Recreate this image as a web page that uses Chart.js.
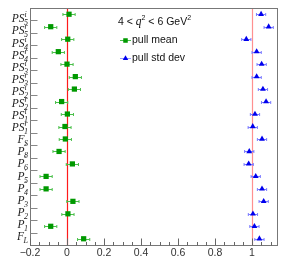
<!DOCTYPE html>
<html>
<head>
<meta charset="utf-8">
<script src="https://cdn.jsdelivr.net/npm/chart.js@4.4.0/dist/chart.umd.min.js"></script>
<style>
  html, body { margin: 0; padding: 0; background: #fff; }
  #wrap { width: 287px; height: 275px; }
</style>
</head>
<body>
<div id="wrap"><canvas id="pulls"></canvas></div>
<script>
"use strict";

// rows, top to bottom: base symbol, superscript, subscript
const rowBase = ["PS", "PS", "PS", "PS", "PS", "PS", "PS", "PS", "PS", "PS", "F", "P", "P", "P", "P", "P", "P", "P", "F"];
const rowSup = ["i", "r", "i", "r", "i", "r", "i", "r", "i", "r", "", "\u2032", "\u2032", "\u2032", "\u2032", "", "", "", ""];
const rowSub = ["5", "5", "4", "4", "3", "3", "2", "2", "1", "1", "S", "8", "6", "5", "4", "3", "2", "1", "L"];

const pullMean = [0.011, -0.088, 0.004, -0.047, 0.0, 0.045, 0.040, -0.029, 0.002, -0.011,
                  -0.009, -0.043, 0.029, -0.113, -0.113, 0.032, 0.005, -0.088, 0.090];
const pullMeanErr = [0.033, 0.033, 0.033, 0.033, 0.033, 0.033, 0.033, 0.033, 0.033, 0.033,
                     0.033, 0.033, 0.033, 0.033, 0.033, 0.033, 0.033, 0.033, 0.033];
const pullStd = [1.049, 1.090, 0.969, 1.025, 1.052, 1.025, 1.059, 1.076, 1.016, 1.004,
                 1.054, 0.985, 0.982, 1.020, 1.054, 1.063, 1.005, 1.013, 1.040];
const pullStdErr = [0.025, 0.025, 0.025, 0.025, 0.025, 0.025, 0.025, 0.025, 0.025, 0.025,
                    0.025, 0.025, 0.025, 0.025, 0.025, 0.025, 0.025, 0.025, 0.025];

const xTicks = [-0.2, 0, 0.2, 0.4, 0.6, 0.8, 1];
const xTickLabels = ["\u22120.2", "0", "0.2", "0.4", "0.6", "0.8", "1"];
const refLines = [0, 1];

const SANS = "'Liberation Sans', Arial, sans-serif";
const SERIF = "'Liberation Serif', 'Times New Roman', serif";

function errorBars(ctx, xs, ys, vals, errs, color) {
  ctx.strokeStyle = color;
  ctx.lineWidth = 1;
  vals.forEach((v, i) => {
    const y = Math.round(ys.getPixelForValue(i)) + 0.5;
    const x1 = xs.getPixelForValue(v - errs[i]);
    const x2 = xs.getPixelForValue(v + errs[i]);
    ctx.beginPath();
    ctx.moveTo(x1, y); ctx.lineTo(x2, y);
    ctx.moveTo(x1, y - 1.5); ctx.lineTo(x1, y + 1.5);
    ctx.moveTo(x2, y - 1.5); ctx.lineTo(x2, y + 1.5);
    ctx.stroke();
  });
}

const decorations = {
  id: "decorations",
  beforeDatasetsDraw(chart) {
    const { ctx, chartArea: a, scales: { x, y } } = chart;
    ctx.save();
    // reference lines at 0 and 1
    refLines.forEach((v, k) => {
      const px = Math.round(x.getPixelForValue(v)) + 0.5;
      ctx.strokeStyle = k === 0 ? "#ff1a1a" : "#ff9090";
      ctx.lineWidth = 1.2;
      ctx.beginPath();
      ctx.moveTo(px, a.top); ctx.lineTo(px, a.bottom);
      ctx.stroke();
    });
    errorBars(ctx, x, y, pullMean, pullMeanErr, "#4cc04c");
    errorBars(ctx, x, y, pullStd, pullStdErr, "#7a7aff");
    ctx.restore();
  },
  afterDraw(chart) {
    const { ctx, chartArea: a, scales: { x, y } } = chart;
    ctx.save();
    const L = Math.round(a.left) + 0.5, R = Math.round(a.right) + 0.5;
    const T = Math.round(a.top) + 0.5, B = Math.round(a.bottom) + 0.5;

    // frame
    ctx.strokeStyle = "#777";
    ctx.lineWidth = 1;
    ctx.strokeRect(L, T, R - L, B - T);

    // x ticks: major every 0.2, minor every 0.05
    ctx.strokeStyle = "#666";
    ctx.beginPath();
    for (let k = 0; k * 0.05 + -0.2 <= x.max + 1e-9; k++) {
      const v = -0.2 + k * 0.05;
      const px = Math.round(x.getPixelForValue(v)) + 0.5;
      const len = k % 4 === 0 ? 7 : 3.5;
      ctx.moveTo(px, B); ctx.lineTo(px, B - len);
    }
    ctx.stroke();

    // x labels
    ctx.fillStyle = "#333";
    ctx.font = "10.5px " + SANS;
    ctx.textAlign = "center";
    ctx.textBaseline = "alphabetic";
    xTicks.forEach((v, i) => {
      ctx.fillText(xTickLabels[i], x.getPixelForValue(v), 255.5);
    });

    // y ticks at row boundaries
    ctx.strokeStyle = "#888";
    ctx.beginPath();
    for (let i = 0; i < rowBase.length - 1; i++) {
      const py = Math.round(y.getPixelForValue(i + 0.5)) + 0.5;
      ctx.moveTo(L, py); ctx.lineTo(L + 7, py);
    }
    ctx.stroke();

    // y labels (italic, with super/subscripts)
    ctx.fillStyle = "#222";
    ctx.textAlign = "left";
    rowBase.forEach((base, i) => {
      const cy = y.getPixelForValue(0.342 + 0.970 * i);
      const baseline = cy + 3.8;
      ctx.font = "italic 11.5px " + SERIF;
      const wb = ctx.measureText(base).width;
      ctx.font = "italic 8px " + SERIF;
      const ws = Math.max(ctx.measureText(rowSup[i]).width, ctx.measureText(rowSub[i]).width);
      const x0 = 28.5 - wb - ws;
      ctx.font = "italic 11.5px " + SERIF;
      ctx.fillText(base, x0, baseline);
      ctx.font = "italic 8px " + SERIF;
      if (rowSup[i]) ctx.fillText(rowSup[i], x0 + wb, baseline - 5);
      ctx.fillText(rowSub[i], x0 + wb - 0.5, baseline + 3);
    });

    // legend header: 4 < q^2 < 6 GeV^2
    let tx = 118;
    const tb = 25;
    const piece = (txt, font, dy) => {
      ctx.font = font;
      ctx.fillText(txt, tx, tb + dy);
      tx += ctx.measureText(txt).width;
    };
    ctx.fillStyle = "#111";
    piece("4 < ", "10.5px " + SANS, 0);
    piece("q", "italic 11.5px " + SERIF, 0);
    piece("2", "7px " + SANS, -5);
    piece(" < 6 GeV", "10.5px " + SANS, 0);
    piece("2", "7px " + SANS, -5);

    // legend entries
    const entries = [
      { text: "pull mean", line: "#4cc04c", fill: "#009900", style: "rect", y: 40.5 },
      { text: "pull std dev", line: "#9a9aff", fill: "#0000ee", style: "triangle", y: 58.5 }
    ];
    entries.forEach((e) => {
      ctx.strokeStyle = e.line;
      ctx.lineWidth = 1;
      ctx.beginPath();
      ctx.moveTo(120, e.y); ctx.lineTo(131, e.y);
      ctx.stroke();
      ctx.fillStyle = e.fill;
      Chart.helpers.drawPoint(ctx, { pointStyle: e.style, radius: 3.2, borderWidth: 0 }, 125.5, e.y);
      ctx.fillStyle = "#111";
      ctx.font = "10.5px " + SANS;
      ctx.textBaseline = "middle";
      ctx.fillText(e.text, 132, e.y);
      ctx.textBaseline = "alphabetic";
    });
    ctx.restore();
  }
};

new Chart(document.getElementById("pulls"), {
  type: "scatter",
  data: {
    datasets: [
      {
        label: "pull mean",
        data: pullMean.map((v, i) => ({ x: v, y: i })),
        pointStyle: "rect",
        pointRadius: 3.7,
        backgroundColor: "#009900",
        borderColor: "#009900",
        borderWidth: 0
      },
      {
        label: "pull std dev",
        data: pullStd.map((v, i) => ({ x: v, y: i })),
        pointStyle: "triangle",
        pointRadius: 3.4,
        backgroundColor: "#0000ee",
        borderColor: "#0000ee",
        borderWidth: 0
      }
    ]
  },
  options: {
    responsive: true,
    maintainAspectRatio: false,
    animation: false,
    layout: { padding: { left: 30, right: 10, top: 8, bottom: 30 } },
    plugins: { legend: { display: false }, tooltip: { enabled: false } },
    scales: {
      x: { type: "linear", min: -0.2, max: 1.135, display: false },
      y: { type: "linear", min: -0.5, max: 18.5, reverse: true, display: false }
    }
  },
  plugins: [decorations]
});
</script>
</body>
</html>
